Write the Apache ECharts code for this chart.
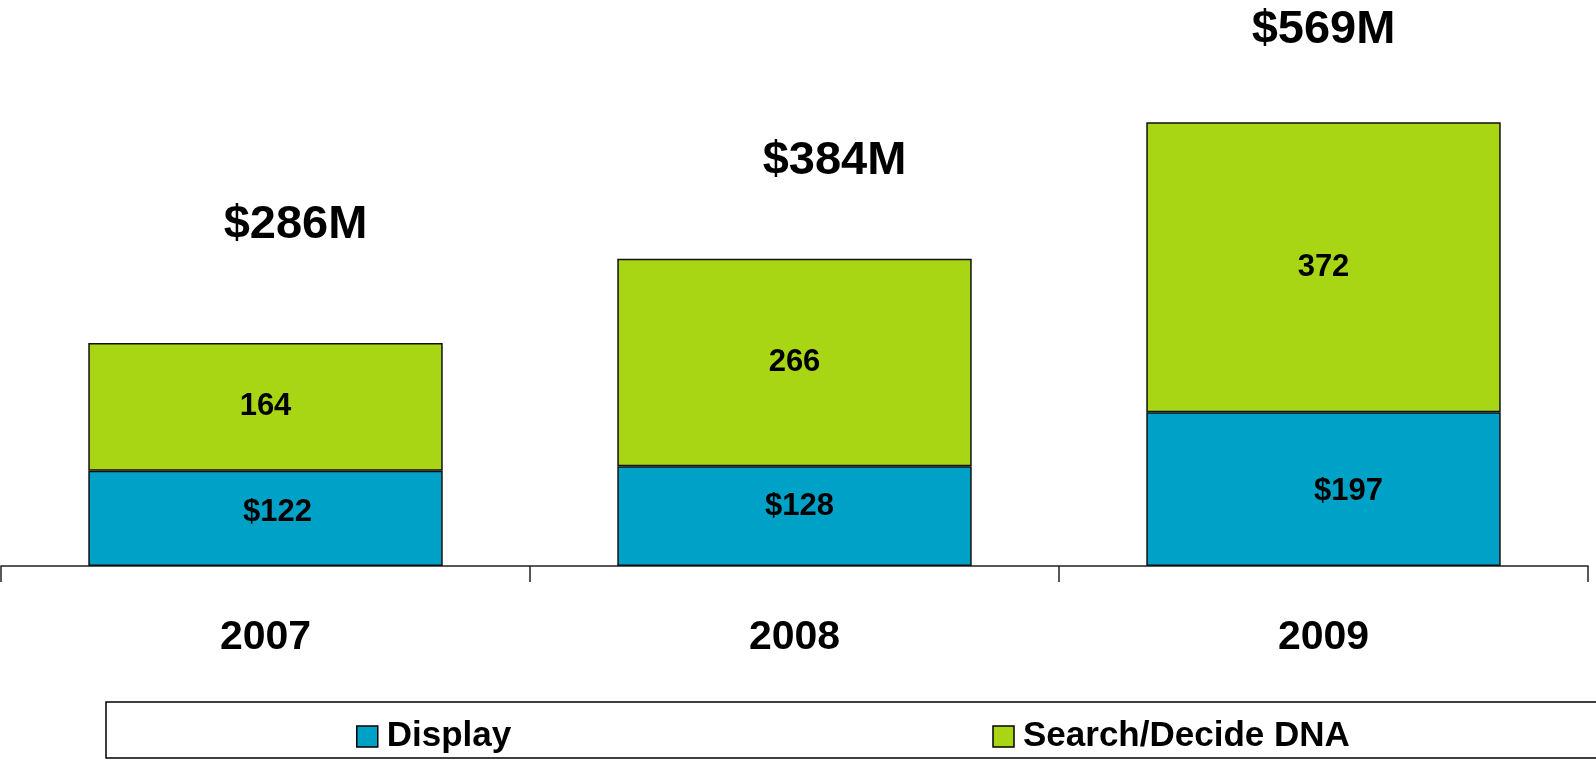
<!DOCTYPE html>
<html>
<head>
<meta charset="utf-8">
<script src="https://cdn.jsdelivr.net/npm/echarts@6/dist/echarts.min.js"></script>
<style>html,body{margin:0;padding:0;background:#fff;}#c{width:1596px;height:760px;}</style>
</head>
<body>
<div id="c"></div>
<script>
var years = ['2007', '2008', '2009'];
var display = [122, 128, 197];
var search = [164, 266, 372];
var totals = [286, 384, 569];
var totalLabels = ['$286M', '$384M', '$569M'];

var FONT = '"Liberation Sans", Arial, sans-serif';
var BLUE = '#00A1C7', GREEN = '#A8D614';
var displayOffsets = [[12, -6], [5, -10], [25, 2]];
var totalOffsets = [[30, -118], [40, -105], [0, -92]];

function bigLabel(extra) {
  var o = { show: true, position: 'inside', fontFamily: FONT, fontWeight: 'bold', fontSize: 47, color: '#000', opacity: 1 };
  for (var k in extra) o[k] = extra[k];
  return o;
}
function segLabel(extra) {
  var o = { show: true, position: 'inside', fontFamily: FONT, fontWeight: 'bold', fontSize: 31, color: '#000' };
  for (var k in extra) o[k] = extra[k];
  return o;
}

var chart = echarts.init(document.getElementById('c'));
chart.setOption({
  animation: false,
  graphic: [{
    type: 'rect', silent: true, z: -1,
    shape: { x: 106, y: 702, width: 1500, height: 56 },
    style: { fill: '#fff', stroke: '#000', lineWidth: 1.5 }
  }],
  grid: { left: 1, right: 8, top: 20, bottom: 194 },
  legend: {
    left: 356, top: 719, padding: 0,
    icon: 'rect', orient: 'horizontal',
    itemWidth: 21, itemHeight: 21, itemGap: 481,
    itemStyle: { borderColor: '#000', borderWidth: 1.5 },
    data: ['Display', 'Search/Decide DNA'],
    textStyle: { fontFamily: FONT, fontWeight: 'bold', fontSize: 35, color: '#000', padding: [0, 0, 0, 4] }
  },
  xAxis: {
    type: 'category', data: years,
    axisLine: { show: true, lineStyle: { color: '#222', width: 1.5 } },
    axisTick: { show: true, length: 16, alignWithLabel: false, lineStyle: { color: '#222', width: 1.5 } },
    axisLabel: { fontFamily: FONT, fontWeight: 'bold', fontSize: 41, color: '#000', margin: 51 }
  },
  yAxis: { type: 'value', min: 0, max: 700, show: false, splitLine: { show: false } },
  series: [
    {
      name: 'Display', type: 'bar', stack: 'a', barWidth: '67%',
      itemStyle: { color: BLUE, borderColor: '#111', borderWidth: 1.5 },
      data: display.map(function (v, i) {
        return { value: v, label: segLabel({ offset: displayOffsets[i], formatter: '$' + v }) };
      }),
      label: segLabel({})
    },
    {
      name: 'Search/Decide DNA', type: 'bar', stack: 'a', barWidth: '67%',
      itemStyle: { color: GREEN, borderColor: '#111', borderWidth: 1.5 },
      data: search,
      label: segLabel({})
    },
    {
      name: 'Total', type: 'scatter', symbolSize: 0, silent: true,
      itemStyle: { opacity: 1, color: '#000' },
      data: totals.map(function (v, i) {
        return { value: v, label: bigLabel({ offset: totalOffsets[i], formatter: totalLabels[i] }) };
      }),
      label: bigLabel({})
    }
  ]
});
</script>
</body>
</html>
